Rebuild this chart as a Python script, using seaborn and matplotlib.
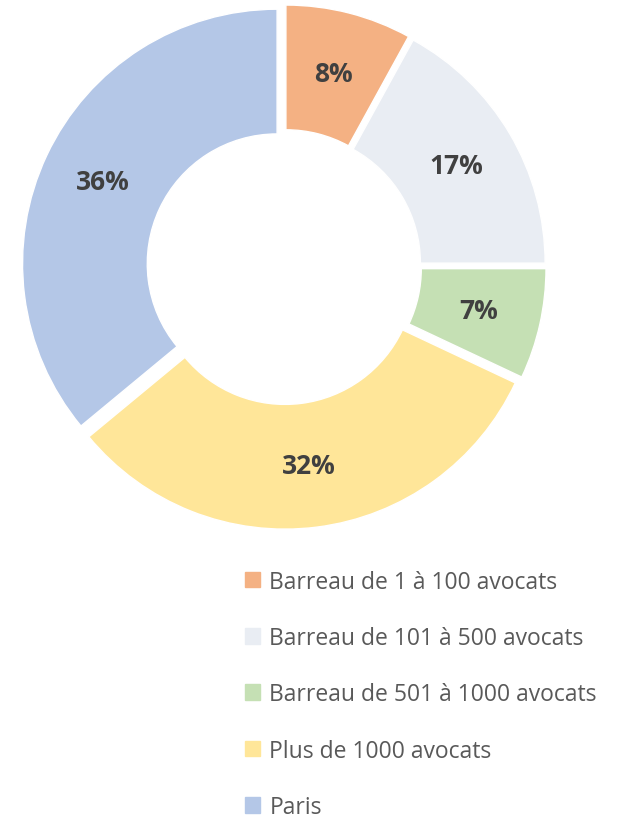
import numpy as np
import matplotlib.pyplot as plt
import matplotlib.patches as mpatches
import seaborn as sns

# ─────────────────────────────────────────────
#  Data
# ─────────────────────────────────────────────
categories = [
    "Barreau de 1 à 100 avocats",
    "Barreau de 101 à 500 avocats",
    "Barreau de 501 à 1000 avocats",
    "Plus de 1000 avocats",
    "Paris",
]
shares = [8, 17, 7, 32, 36]
colors = ["#F4B183", "#E9EDF3", "#C5E0B4", "#FFE699", "#B4C7E7"]

# ─────────────────────────────────────────────
#  Figure
# ─────────────────────────────────────────────
sns.set_theme(style="white")
plt.rcParams["font.family"] = ["Open Sans", "DejaVu Sans"]

W, H = 628, 820
fig = plt.figure(figsize=(W / 100, H / 100), dpi=100)
ax = fig.add_axes([4 / W, 272 / H, 560 / W, 560 / H])

wedges, texts = ax.pie(
    shares,
    colors=colors,
    startangle=90,
    counterclock=False,
    explode=[0.03] * len(shares),
    labels=[f"{v}%" for v in shares],
    labeldistance=0.755,
    radius=1.0,
    wedgeprops=dict(width=0.49, edgecolor="white", linewidth=1),
    textprops=dict(fontsize=19, fontweight="bold", color="#404040"),
)
for t in texts:
    t.set_ha("center")
    t.set_va("center")

ax.set_xlim(-1.1, 1.1)
ax.set_ylim(-1.1, 1.1)
ax.set_aspect("equal")
ax.axis("off")

handles = [mpatches.Patch(color=c, label=l) for c, l in zip(colors, categories)]
fig.legend(
    handles=handles,
    loc="upper left",
    bbox_to_anchor=(224 / W, 1 - 550 / H),
    frameon=False,
    fontsize=16.5,
    labelcolor="#595959",
    handlelength=0.68,
    handleheight=0.68,
    handletextpad=0.4,
    labelspacing=1.41,
)

fig.savefig("out.png", dpi=100)
